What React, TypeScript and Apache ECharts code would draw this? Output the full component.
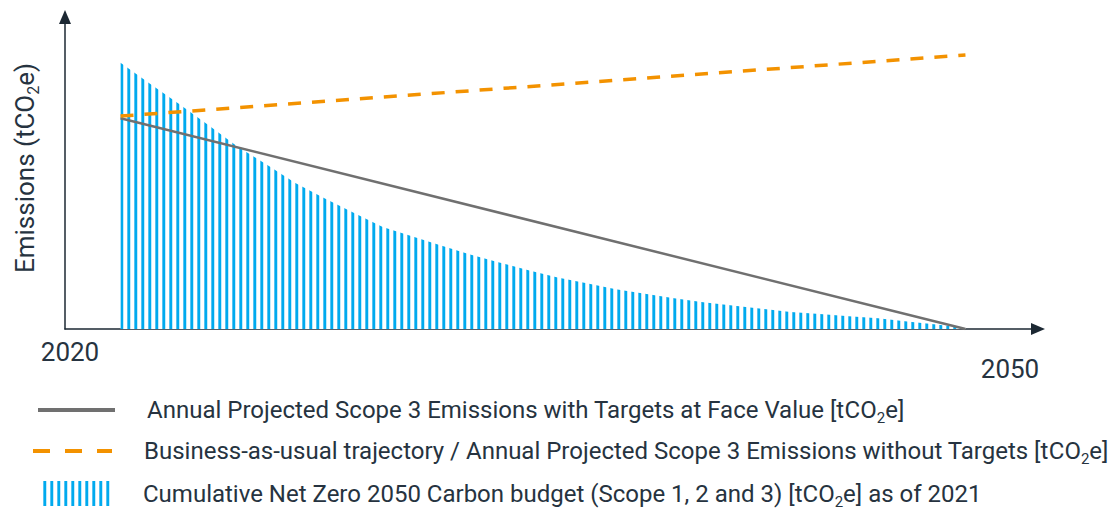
import { useEffect, useRef } from "react";
import * as echarts from "echarts";

// Years covered by the projections
const budgetYears = [
  2021, 2022, 2023, 2024, 2025, 2026, 2027, 2028, 2029, 2030,
  2031, 2032, 2033, 2034, 2035, 2036, 2037, 2038, 2039, 2040,
  2041, 2042, 2043, 2044, 2045, 2046, 2047, 2048, 2049, 2050,
];
// Annual share of the cumulative Net Zero 2050 carbon budget (tCO2e, relative units)
const budgetValues = [
  126.3, 116.4, 106.9, 96.9, 86.7, 78.1, 69.3, 62.0, 55.2, 48.4,
  44.0, 39.6, 35.3, 31.6, 27.9, 24.4, 21.7, 18.9, 16.7, 14.6,
  12.7, 11.2, 9.6, 8.1, 7.1, 6.1, 5.1, 3.6, 2.1, 0.5,
];
// Projected Scope 3 emissions with targets at face value
const targetYears = [2021, 2050];
const targetValues = [100, 0];
// Business-as-usual trajectory (no targets)
const bauYears = [2021, 2050];
const bauValues = [101, 130];

const xEndLabels = ["2020", "2050"];
const seriesNames = [
  "Annual Projected Scope 3 Emissions with Targets at Face Value [tCO2e]",
  "Business-as-usual trajectory / Annual Projected Scope 3 Emissions without Targets [tCO2e]",
  "Cumulative Net Zero 2050 Carbon budget (Scope 1, 2 and 3) [tCO2e] as of 2021",
];

const FONT = "Roboto, 'Noto Sans', sans-serif";
const TEXT = "#263340";
const BLUE = "#00aaee";
const GRAY = "#707070";
const ORANGE = "#f39200";
const AXIS = "#1c2833";

function stripeTile(): HTMLCanvasElement {
  const c = document.createElement("canvas");
  c.width = 7;
  c.height = 8;
  const g = c.getContext("2d")!;
  g.fillStyle = "#ffffff";
  g.fillRect(0, 0, 7, 8);
  g.fillStyle = "#55c4f3";
  g.fillRect(1, 0, 1, 8);
  g.fillStyle = BLUE;
  g.fillRect(2, 0, 2, 8);
  g.fillStyle = "#c0eafb";
  g.fillRect(4, 0, 1, 8);
  return c;
}

// rich text with a subscript "2" in tCO2e
function withSub(s: string, style: string): string {
  return s
    .split("CO2")
    .map((p) => `{${style}|${p}}`)
    .join(`{${style}|CO}{sub|2}`);
}

export default function App() {
  const ref = useRef<HTMLDivElement>(null);

  useEffect(() => {
    if (!ref.current) return;
    const chart = echarts.init(ref.current, undefined, { renderer: "svg" });
    const pattern = { image: stripeTile(), repeat: "repeat" };

    const legendRows = [
      { y: 410, textX: 147 },
      { y: 451, textX: 144 },
      { y: 494, textX: 143 },
    ];

    chart.setOption({
      animation: false,
      backgroundColor: "#ffffff",
      grid: { left: 65, right: 76, top: 17, bottom: 184, containLabel: false },
      xAxis: {
        type: "value",
        min: 2019.095,
        max: 2052.49,
        axisLine: {
          show: true,
          symbol: ["none", "triangle"],
          symbolSize: [12, 14],
          lineStyle: { color: AXIS, width: 1.5 },
        },
        axisTick: { show: false },
        axisLabel: { show: false },
        splitLine: { show: false },
      },
      yAxis: {
        type: "value",
        min: 0,
        max: 148,
        axisLine: {
          show: true,
          symbol: ["none", "triangle"],
          symbolSize: [12, 14],
          lineStyle: { color: AXIS, width: 1.5 },
        },
        axisTick: { show: false },
        axisLabel: { show: false },
        splitLine: { show: false },
      },
      series: [
        {
          name: seriesNames[2],
          type: "line",
          data: budgetYears.map((y, i) => [y, budgetValues[i]]),
          showSymbol: false,
          lineStyle: { width: 0 },
          areaStyle: { color: pattern, opacity: 1 },
          z: 1,
        },
        {
          name: seriesNames[0],
          type: "line",
          data: targetYears.map((y, i) => [y, targetValues[i]]),
          showSymbol: false,
          lineStyle: { color: GRAY, width: 2.5 },
          z: 3,
        },
        {
          name: seriesNames[1],
          type: "line",
          data: bauYears.map((y, i) => [y, bauValues[i]]),
          showSymbol: false,
          lineStyle: { color: ORANGE, width: 3.5, type: [13, 11] },
          z: 4,
        },
      ],
      graphic: [
        {
          type: "text",
          x: 25,
          y: 168,
          rotation: Math.PI / 2,
          style: {
            text: withSub("Emissions (tCO2e)", "t"),
            align: "center",
            verticalAlign: "middle",
            rich: {
              t: { fontSize: 26, fontFamily: FONT, fill: TEXT, lineHeight: 32 },
              sub: { fontSize: 16, fontFamily: FONT, fill: TEXT, verticalAlign: "bottom", lineHeight: 26 },
            },
          },
        },
        {
          type: "text",
          x: 70,
          y: 352,
          style: { text: xEndLabels[0], font: `26px ${FONT}`, fill: TEXT, align: "center", verticalAlign: "middle" },
        },
        {
          type: "text",
          x: 1010,
          y: 369,
          style: { text: xEndLabels[1], font: `26px ${FONT}`, fill: TEXT, align: "center", verticalAlign: "middle" },
        },
        // legend swatches
        {
          type: "line",
          shape: { x1: 38, y1: legendRows[0].y, x2: 115, y2: legendRows[0].y },
          style: { stroke: GRAY, lineWidth: 4 },
        },
        {
          type: "line",
          shape: { x1: 33, y1: legendRows[1].y, x2: 112, y2: legendRows[1].y },
          style: { stroke: ORANGE, lineWidth: 4, lineDash: [17, 15] },
        },
        {
          type: "rect",
          shape: { x: 42, y: 481, width: 70, height: 25 },
          style: { fill: pattern },
        },
        ...seriesNames.map((name, i) => ({
          type: "text",
          x: legendRows[i].textX,
          y: legendRows[i].y,
          style: {
            text: withSub(name, "t"),
            align: "left",
            verticalAlign: "middle",
            rich: {
              t: { fontSize: 24, fontFamily: FONT, fill: TEXT, lineHeight: 30 },
              sub: { fontSize: 15, fontFamily: FONT, fill: TEXT, verticalAlign: "bottom", lineHeight: 23 },
            },
          },
        })),
      ],
    });

    return () => chart.dispose();
  }, []);

  return (
    <div
      ref={ref}
      style={{ position: "fixed", left: 0, top: 0, width: 1114, height: 513, background: "#fff" }}
    />
  );
}
